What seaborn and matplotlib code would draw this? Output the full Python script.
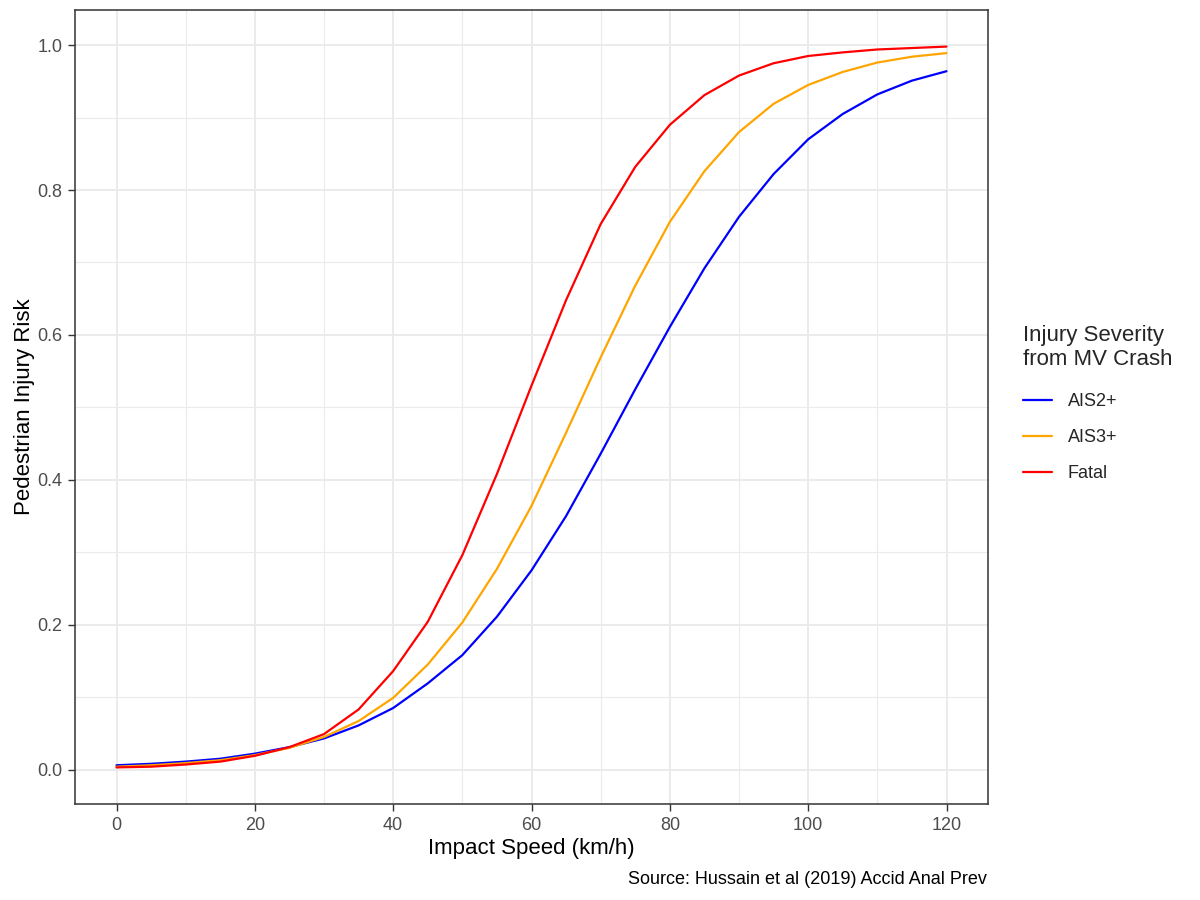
import numpy as np
import pandas as pd
import matplotlib
matplotlib.use("Agg")
import matplotlib.pyplot as plt
import seaborn as sns

# Impact speed (km/h) and injury risk
speed = [0, 5, 10, 15, 20, 25, 30, 35, 40, 45, 50, 55, 60,
         65, 70, 75, 80, 85, 90, 95, 100, 105, 110, 115, 120]
ais2_risk = [0.006, 0.008, 0.011, 0.015, 0.022, 0.031, 0.043, 0.061, 0.085,
             0.119, 0.158, 0.211, 0.275, 0.350, 0.436, 0.525, 0.611, 0.692,
             0.763, 0.822, 0.870, 0.905, 0.932, 0.951, 0.964]
ais3_risk = [0.004, 0.006, 0.009, 0.013, 0.020, 0.030, 0.045, 0.067, 0.099,
             0.145, 0.203, 0.277, 0.364, 0.465, 0.569, 0.668, 0.756, 0.826,
             0.880, 0.919, 0.945, 0.963, 0.976, 0.984, 0.989]
fatal_risk = [0.003, 0.004, 0.007, 0.011, 0.019, 0.031, 0.049, 0.083, 0.136,
              0.204, 0.296, 0.408, 0.530, 0.648, 0.753, 0.832, 0.890, 0.931,
              0.958, 0.975, 0.985, 0.990, 0.994, 0.996, 0.998]
severity = ["AIS2+", "AIS3+", "Fatal"]
colors = {"AIS2+": "#0000FF", "AIS3+": "#FFA500", "Fatal": "#FF0000"}

df = pd.concat([
    pd.DataFrame({"speed": speed, "risk": r, "severity": s})
    for s, r in zip(severity, [ais2_risk, ais3_risk, fatal_risk])
])

sns.set_style("white")
plt.rcParams["font.family"] = ["Liberation Sans", "DejaVu Sans"]

fig = plt.figure(figsize=(12, 9), dpi=100)
ax = fig.add_axes([75 / 1200, 1 - 804 / 900, 913 / 1200, 794 / 900])

sns.lineplot(data=df, x="speed", y="risk", hue="severity", hue_order=severity,
             palette=colors, linewidth=1.6, ax=ax)

ax.set_xlim(-6, 126)
ax.set_ylim(-0.0475, 1.0485)
ax.set_xticks([0, 20, 40, 60, 80, 100, 120])
ax.set_xticks([10, 30, 50, 70, 90, 110], minor=True)
ax.set_yticks([0.0, 0.2, 0.4, 0.6, 0.8, 1.0])
ax.set_yticks([0.1, 0.3, 0.5, 0.7, 0.9], minor=True)
ax.set_yticklabels(["0.0", "0.2", "0.4", "0.6", "0.8", "1.0"])

ax.grid(which="major", color="#EBEBEB", linewidth=1.4)
ax.grid(which="minor", color="#EBEBEB", linewidth=0.8)
ax.set_axisbelow(True)
for sp in ax.spines.values():
    sp.set_color("#333333")
    sp.set_linewidth(1.1)
ax.tick_params(which="major", bottom=True, left=True, length=5, width=1.0,
               color="#333333", labelsize=13, labelcolor="#4D4D4D", pad=4)
ax.tick_params(which="minor", length=0)

ax.set_xlabel("Impact Speed (km/h)", fontsize=16, color="black", labelpad=3)
ax.set_ylabel("Pedestrian Injury Risk", fontsize=16, color="black", labelpad=2)

fig.text(987 / 1200, 1 - 879 / 900, "Source: Hussain et al (2019) Accid Anal Prev",
         ha="right", va="center", fontsize=13, color="black")

leg = ax.legend(title="Injury Severity\nfrom MV Crash", loc="upper left",
                bbox_to_anchor=(1.03, 0.613), frameon=False, fontsize=13,
                title_fontsize=16, handlelength=1.6, handletextpad=0.9,
                labelspacing=1.05, alignment="left", borderaxespad=0)
leg._legend_box.sep = 17

fig.savefig("out.png", dpi=100)
